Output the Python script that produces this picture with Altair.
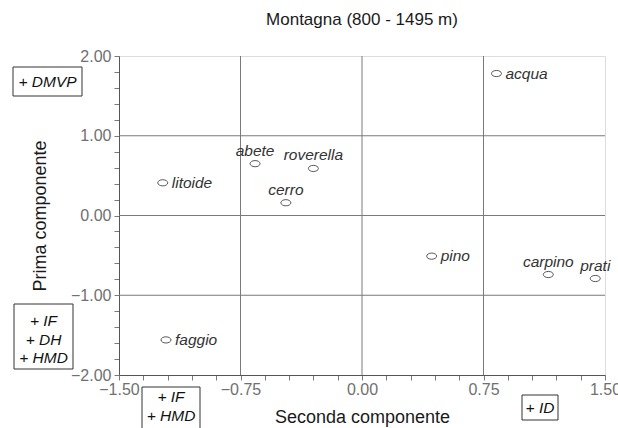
import altair as alt
import pandas as pd

# Component scores for each land-cover / species category
names = ["acqua", "abete", "roverella", "cerro", "litoide", "pino", "carpino", "prati", "faggio"]
seconda = [0.83, -0.66, -0.30, -0.47, -1.23, 0.43, 1.15, 1.44, -1.21]
prima = [1.78, 0.65, 0.59, 0.16, 0.41, -0.51, -0.74, -0.79, -1.56]

# Categories whose label sits to the right of the marker (others sit above)
right_labelled = ["acqua", "litoide", "pino", "faggio"]

# Axis ticks and reference grid
x_ticks = [round(-1.5 + 0.15 * i, 2) for i in range(21)]
y_ticks = [round(-2.0 + 0.2 * i, 2) for i in range(21)]
x_grid = [-0.75, 0.0, 0.75]
y_grid = [-1.0, 0.0, 1.0]

df = pd.DataFrame({"name": names, "seconda": seconda, "prima": prima})

W, H = 486, 319
GREY = "#7a7a7a"
LABEL = "#333333"
FONT = "Liberation Sans"

xscale = alt.Scale(domain=[-1.5, 1.5], nice=False, zero=False)
yscale = alt.Scale(domain=[-2.0, 2.0], nice=False, zero=False)

xaxis = alt.Axis(
    values=x_ticks,
    labelExpr="abs(datum.value/0.75 - round(datum.value/0.75)) < 0.01 ? format(datum.value, '.2f') : ''",
    grid=False, tickSize=5, tickColor=GREY, domainColor="#555555",
    labelColor="#707070", labelFontSize=16, labelFont=FONT, labelPadding=1,
    title="Seconda componente", titleFontSize=18, titleFont=FONT,
    titleFontWeight="normal", titleColor="#1a1a1a", titlePadding=11,
    labelOverlap=False, labelFlush=False,
)
yaxis = alt.Axis(
    values=y_ticks,
    labelExpr="abs(datum.value - round(datum.value)) < 0.01 ? format(datum.value, '.2f') : ''",
    grid=False, tickSize=5, tickColor=GREY, domainColor="#555555",
    labelColor="#707070", labelFontSize=16, labelFont=FONT, labelPadding=3,
    title="Prima componente", titleFontSize=18, titleFont=FONT,
    titleFontWeight="normal", titleColor="#1a1a1a", titlePadding=21,
    labelOverlap=False, labelFlush=False,
)

vgrid = alt.Chart(pd.DataFrame({"v": x_grid})).mark_rule(color=GREY, strokeWidth=1).encode(
    x=alt.X("v:Q", scale=xscale, axis=xaxis)
)
hgrid = alt.Chart(pd.DataFrame({"v": y_grid})).mark_rule(color=GREY, strokeWidth=1).encode(
    y=alt.Y("v:Q", scale=yscale, axis=yaxis)
)

ellipse = "M-1,0 A1,0.62 0 1,0 1,0 A1,0.62 0 1,0 -1,0 Z"
base = alt.Chart(df).encode(
    x=alt.X("seconda:Q", scale=xscale, axis=xaxis),
    y=alt.Y("prima:Q", scale=yscale, axis=yaxis),
)
points = base.mark_point(shape=ellipse, size=100, filled=False, color="#444444",
                         fill="white", fillOpacity=1, strokeWidth=0.9, opacity=1)

is_right = alt.FieldOneOfPredicate(field="name", oneOf=right_labelled)
labels_right = base.transform_filter(is_right).mark_text(
    align="left", baseline="middle", dx=9, dy=0, fontStyle="italic",
    fontSize=15.5, font=FONT, color=LABEL
).encode(text="name:N")
labels_above = base.transform_filter(~is_right).mark_text(
    align="center", baseline="alphabetic", dx=0, dy=-8, fontStyle="italic",
    fontSize=15.5, font=FONT, color=LABEL
).encode(text="name:N")


# Annotation boxes outside the plotting area (pixel offsets from the plot origin)
def note(x0, x1, y0, y1, text, first_line_y, line_h=18.5):
    box = alt.Chart(pd.DataFrame({"t": [text]})).mark_rect(
        fill="white", stroke="#333333", strokeWidth=1
    ).encode(x=alt.value(x0), x2=alt.value(x1), y=alt.value(y0), y2=alt.value(y1))
    txt = alt.Chart(pd.DataFrame({"t": [text]})).mark_text(
        align="center", baseline="middle", fontStyle="italic", fontSize=15.5,
        font=FONT, color="#111111", lineBreak="\n", lineHeight=line_h
    ).encode(x=alt.value((x0 + x1) / 2), y=alt.value(first_line_y), text="t:N")
    return box + txt


notes = (
    note(-106, -37, 11, 40, "+ DMVP", 25.5)
    + note(-105, -46, 248, 313, "+ IF\n+ DH\n+ HMD", 265)
    + note(23, 81, 331, 390, "+ IF\n+ HMD", 341)
    + note(403, 439, 339, 364, "+ ID", 351.5)
)

chart = alt.layer(vgrid, hgrid, points, labels_right, labels_above, notes).properties(
    width=W, height=H,
    title=alt.TitleParams("Montagna (800 - 1495 m)", fontSize=17, font=FONT,
                          fontWeight="normal", color="#1a1a1a", offset=19, anchor="middle"),
    autosize=alt.AutoSizeParams(type="none"),
    padding={"left": 119, "top": 56, "right": 13, "bottom": 53},
).configure_view(stroke=None).configure(background="white")

chart.save("out.html", embed_options={"renderer": "svg", "actions": False})
